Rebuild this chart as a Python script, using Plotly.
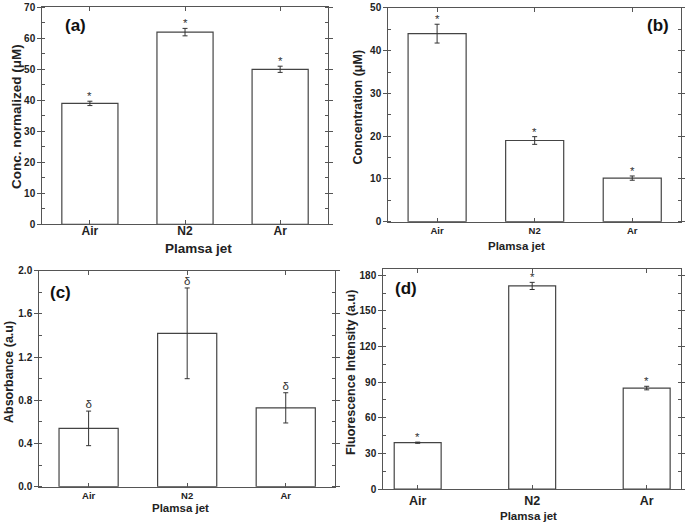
import plotly.graph_objects as go

categories = ["Air", "N2", "Ar"]

a_values = [39.0, 62.0, 50.0]
a_errors = [0.7, 1.2, 1.0]
b_values = [44.0, 19.0, 10.2]
b_errors = [2.2, 0.9, 0.5]
c_values = [0.54, 1.42, 0.73]
c_errors = [0.16, 0.42, 0.14]
d_values = [39.0, 171.0, 85.0]
d_errors = [0.5, 3.0, 1.5]

a_marks = ["*", "*", "*"]
b_marks = ["*", "*", "*"]
c_marks = ["δ", "δ", "δ"]
d_marks = ["*", "*", "*"]

x_title = "Plamsa jet"

FONT = "Liberation Sans, Arial, sans-serif"
AX = "#555555"
BAR_LINE = "#444444"
TXT = "#222222"

panels = [
    dict(vals=a_values, errs=a_errors, marks=a_marks, width=0.59, xr=[-0.5, 2.5],
         yr=[0, 70], dt=10, fmt="d",
         ytitle="Conc. normalized (μM)", label="(a)", xdom=[0.0618, 0.4784], ydom=[0.5736, 0.9861],
         xfs=12, yfs=10, xstand=-5, lab_xy=(75, 25),
         yt_xy=(17, 117), yt_fs=13.5, xt_xy=(198, 248), xt_fs=13.5),
    dict(vals=b_values, errs=b_errors, marks=b_marks, width=0.595, xr=[-0.5, 2.5],
         yr=[0, 50], dt=10, fmt="d",
         ytitle="Concentration (μM)", label="(b)", xdom=[0.5669, 0.9942], ydom=[0.5785, 0.9848],
         xfs=9.5, yfs=10, xstand=0, lab_xy=(658, 26),
         yt_xy=(357.5, 107), yt_fs=12.5, xt_xy=(516, 246), xt_fs=11.5),
    dict(vals=c_values, errs=c_errors, marks=c_marks, width=0.60, xr=[-0.5, 2.5],
         yr=[0, 2.0], dt=0.4, fmt=".1f",
         ytitle="Absorbance (a.u)", label="(c)", xdom=[0.0574, 0.4891], ydom=[0.0747, 0.4854],
         xfs=9.5, yfs=10, xstand=0, lab_xy=(60, 292),
         yt_xy=(9, 372), yt_fs=12.5, xt_xy=(180, 508), xt_fs=11.5),
    dict(vals=d_values, errs=d_errors, marks=d_marks, width=0.41, xr=[-0.3, 2.3],
         yr=[0, 185], dt=30, fmt="d",
         ytitle="Fluorescence Intensity (a.u)", label="(d)", xdom=[0.5596, 0.9942], ydom=[0.0703, 0.4880],
         xfs=12.5, yfs=10, xstand=0, lab_xy=(406, 288),
         yt_xy=(351, 373), yt_fs=12.5, xt_xy=(528, 516), xt_fs=11.5),
]

fig = go.Figure()
layout = dict(
    width=685, height=526,
    margin=dict(l=0, r=0, t=0, b=0, autoexpand=False),
    paper_bgcolor="white", plot_bgcolor="white",
    showlegend=False,
    font=dict(family=FONT, color=TXT),
    annotations=[],
)

W, H = 685, 526
for i, p in enumerate(panels):
    n = "" if i == 0 else str(i + 1)
    xa, ya = "x" + n, "y" + n
    fig.add_trace(go.Bar(
        x=[0, 1, 2], y=p["vals"], width=p["width"], xaxis=xa, yaxis=ya,
        marker=dict(color="white", line=dict(color=BAR_LINE, width=1.2)),
        error_y=dict(type="data", array=p["errs"], color="#333333", thickness=1, width=2.5),
        hoverinfo="skip",
    ))
    tops = [v + e for v, e in zip(p["vals"], p["errs"])]
    if p["marks"][0] == "δ":
        fig.add_trace(go.Scatter(
            x=[0, 1, 2], y=tops, xaxis=xa, yaxis=ya,
            mode="text", text=p["marks"], textposition="top center",
            textfont=dict(family=FONT, size=11.5, color="#333333"),
            hoverinfo="skip", cliponaxis=False,
        ))
    else:
        for k, (t, m) in enumerate(zip(tops, p["marks"])):
            layout["annotations"].append(dict(
                text=m, x=k, y=t, xref=xa, yref=ya, showarrow=False,
                xanchor="center", yanchor="middle", yshift=5,
                font=dict(family=FONT, size=11.5, color="#333333"),
            ))
    layout["xaxis" + n] = dict(
        domain=p["xdom"], anchor=ya, range=p["xr"], automargin=False,
        tickmode="array", tickvals=[0, 1, 2], ticktext=categories,
        ticks="inside", ticklen=4, tickcolor=AX, tickwidth=1,
        ticklabelstandoff=p["xstand"],
        showline=True, linecolor=AX, linewidth=1.2, mirror="allticks",
        showgrid=False, zeroline=False,
        tickfont=dict(family=FONT, size=p["xfs"], weight="bold", color=TXT),
    )
    layout["yaxis" + n] = dict(
        domain=p["ydom"], anchor=xa, range=p["yr"], dtick=p["dt"], tick0=0, tickformat=p["fmt"],
        automargin=False,
        ticks="outside", ticklen=4, tickcolor=AX, tickwidth=1,
        minor=dict(dtick=p["dt"] / 2, ticks="inside", ticklen=3, tickcolor=AX, showgrid=False),
        showline=True, linecolor=AX, linewidth=1.2, mirror="ticks",
        showgrid=False, zeroline=False,
        tickfont=dict(family=FONT, size=p["yfs"], weight="bold", color=TXT),
    )
    lx, ly = p["lab_xy"]
    layout["annotations"].append(dict(
        text=p["label"], x=lx / W, y=1 - ly / H, xref="paper", yref="paper",
        showarrow=False, xanchor="center", yanchor="middle",
        font=dict(family=FONT, size=17, weight="bold", color="#111111"),
    ))
    tx, ty = p["yt_xy"]
    layout["annotations"].append(dict(
        text=p["ytitle"], x=tx / W, y=1 - ty / H, xref="paper", yref="paper", textangle=-90,
        showarrow=False, xanchor="center", yanchor="middle",
        font=dict(family=FONT, size=p["yt_fs"], weight="bold", color=TXT),
    ))
    tx, ty = p["xt_xy"]
    layout["annotations"].append(dict(
        text=x_title, x=tx / W, y=1 - ty / H, xref="paper", yref="paper",
        showarrow=False, xanchor="center", yanchor="middle",
        font=dict(family=FONT, size=p["xt_fs"], weight="bold", color=TXT),
    ))

fig.update_layout(**layout)
fig.write_html("out.html", config={"displayModeBar": False},
               post_script="document.body.style.margin='0px';")
